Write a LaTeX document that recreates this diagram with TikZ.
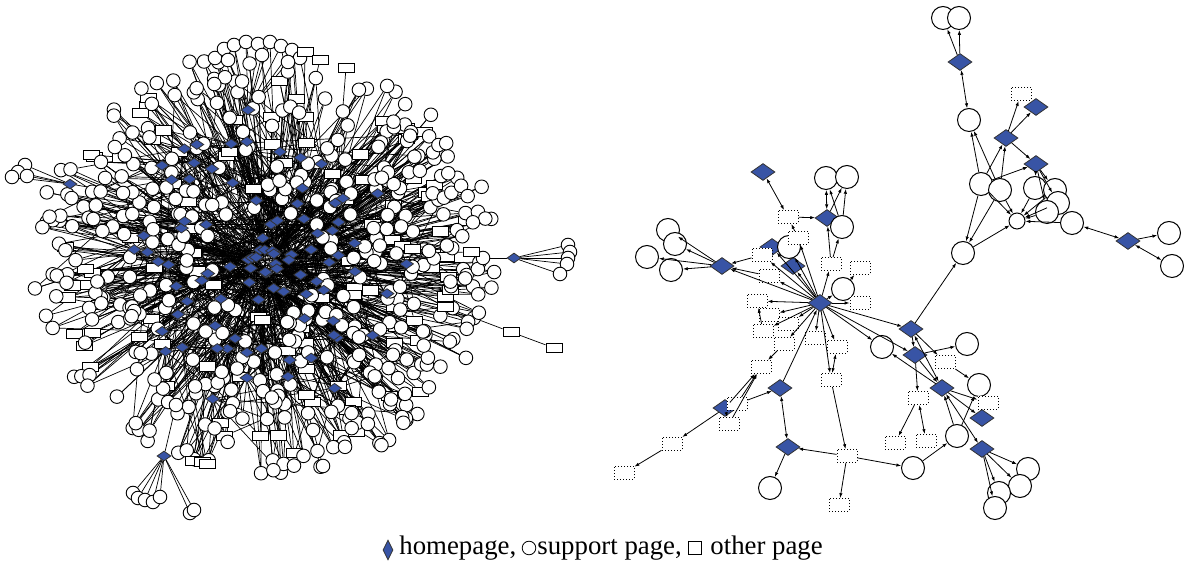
\documentclass[tikz,border=0pt]{standalone}
\usepackage{fontspec}
\setmainfont{Liberation Serif}
\usetikzlibrary{shapes.geometric,arrows.meta,positioning}
\definecolor{hpblue}{RGB}{56,84,165}
\pgfdeclarelayer{back}
\pgfdeclarelayer{fore}
\pgfsetlayers{back,main,fore}
\tikzset{
  hp/.style={diamond,draw=black!80,fill=hpblue,line width=.4pt,inner sep=0pt,minimum width=12pt,minimum height=8.5pt},
  sp/.style={circle,draw,fill=white,line width=.5pt,inner sep=0pt,minimum size=11.5pt},
  op/.style={rectangle,draw=black,densely dotted,fill=white,line width=.5pt,inner sep=0pt,minimum width=10pt,minimum height=6.5pt},
  lhp/.style={hp,minimum width=7pt,minimum height=5pt},
  lsp/.style={sp,minimum size=6.8pt,line width=.45pt},
  lop/.style={rectangle,draw,fill=white,line width=.45pt,inner sep=0pt,minimum width=8pt,minimum height=4.6pt},
  lnk/.style={->,line width=.4pt},
  hl/.style={line width=.35pt},
  lgtxt/.style={font=\fontsize{13.4}{15}\selectfont,inner sep=0pt}
}
\begin{document}
\begin{tikzpicture}[x=0.5pt,y=-0.5pt,>={Latex[length=2.4pt,width=1.7pt]}]
\useasboundingbox (0,0) rectangle (1184,565);
\pgfmathsetseed{4242}

% big graph: homepages in the middle
\begin{pgfonlayer}{fore}
\foreach \i in {1,...,90}
{
    \pgfmathsetmacro{\ang}{\i*4+8*rnd}
    \pgfmathsetmacro{\rad}{10+145*rnd}
    \node[lhp] (ld\i) at ({265+\rad*cos(\ang)},{262+0.95*\rad*sin(\ang)}) {};
}
\node[lhp] (lx1) at (248,110) {};
\node[lhp] (lx2) at (70,184) {};
\node[lhp] (lx3) at (514,258) {};
\node[lhp] (lx4) at (164,456) {};
\end{pgfonlayer}

% big graph: other pages
\foreach \i in {1,...,110}
{
    \pgfmathsetmacro{\ang}{360*rnd}
    \pgfmathsetmacro{\rad}{0.1+0.85*sqrt(rnd)}
    \node[lop] (lr\i) at ({265+228*\rad*cos(\ang)},{262+205*\rad*sin(\ang)}) {};
    \pgfmathtruncatemacro{\ta}{1+mod(int(\ang/4+8*rnd-4)+90,90)}
    \pgfmathtruncatemacro{\tb}{1+int(89.9*rnd)}
    \expandafter\xdef\csname lra\i\endcsname{\ta}
    \expandafter\xdef\csname lrb\i\endcsname{\tb}
}

% big graph: support pages
\foreach \i in {1,...,430}
{
    \pgfmathsetmacro{\ang}{360*rnd}
    \pgfmathsetmacro{\rad}{sqrt(0.05+0.95*rnd)}
    \node[lsp] (lc\i) at ({265+232*\rad*cos(\ang)},{262+212*\rad*sin(\ang)}) {};
    \pgfmathtruncatemacro{\ta}{1+mod(int(\ang/4+10*rnd-5)+90,90)}
    \pgfmathtruncatemacro{\tb}{1+int(89.9*rnd)}
    \pgfmathtruncatemacro{\tc}{1+mod(int(\ang/4+6*rnd-3)+90,90)}
    \expandafter\xdef\csname lca\i\endcsname{\ta}
    \expandafter\xdef\csname lcb\i\endcsname{\tb}
    \expandafter\xdef\csname lcc\i\endcsname{\tc}
}

% big graph: outlying fans
\foreach \x/\y [count=\k] in {215/58,224/49,234/45,246/42,258/44,270/42,281/46,292/50,300/58,228/60,262/55,288/62}
    \node[lsp] (lt\k) at (\x,\y) {};
\node[lop] (lq1) at (305,52) {};
\node[lop] (lq2) at (320,60) {};
\node[lop] (lq3) at (346,68) {};
\node[lsp] (lxc1) at (123,193) {};
\foreach \x/\y [count=\k] in {25/165,18/172,12/177,27/176}
    \node[lsp] (lf\k) at (\x,\y) {};
\node[lsp] (lxc2) at (483,258) {};
\node[lop] (lxr1) at (471,252) {};
\foreach \x/\y [count=\k] in {568/245,570/252,568/258,567/264,560/274}
    \node[lsp] (lg\k) at (\x,\y) {};
\node[lop] (lxr4) at (445,307) {};
\node[lop] (lxr2) at (511,332) {};
\node[lop] (lxr3) at (554,348) {};
\node[lsp] (lxc3) at (176,405) {};
\foreach \x/\y [count=\k] in {133/493,138/498,145/500,153/502,160/497,190/513,194/510}
    \node[lsp] (lb\k) at (\x,\y) {};
\foreach \x/\y [count=\k] in {193/461,202/462,207/464}
    \node[lop] (lo\k) at (\x,\y) {};
\node[lsp] (lxc4) at (313,430) {};
\node[lsp] (lxc5) at (323,466) {};

% big graph: all links
\begin{pgfonlayer}{back}
\foreach \i in {1,...,90}
{
    \pgfmathtruncatemacro{\t}{1+mod(\i+int(rnd*87),90)}
    \pgfmathtruncatemacro{\s}{1+mod(\i+int(rnd*87),90)}
    \draw[hl] (ld\i) -- (ld\t);
    \draw[hl] (ld\i) -- (ld\s);
}
\foreach \i in {1,...,110}
{
    \edef\ta{\csname lra\i\endcsname}
    \edef\tb{\csname lrb\i\endcsname}
    \draw[hl] (lr\i) -- (ld\ta);
    \draw[hl] (lr\i) -- (ld\tb);
}
\foreach \i in {1,...,430}
{
    \edef\ta{\csname lca\i\endcsname}
    \edef\tb{\csname lcb\i\endcsname}
    \edef\tc{\csname lcc\i\endcsname}
    \draw[hl] (lc\i) -- (ld\ta);
    \draw[hl] (lc\i) -- (ld\tc);
    \ifodd\i \draw[hl] (lc\i) -- (ld\tb); \fi
}
\foreach \k in {1,...,12}
{
    \pgfmathtruncatemacro{\t}{64+\k}
    \draw[hl] (lt\k) -- (lx1);
    \draw[hl] (lt\k) -- (ld\t);
}
\foreach \k in {1,...,4} \draw[hl] (lf\k) -- (lx2);
\foreach \k in {1,...,5} \draw[hl] (lg\k) -- (lx3);
\foreach \k in {1,...,7} \draw[hl] (lb\k) -- (lx4);
\foreach \k in {1,...,3}
{
    \draw[hl] (lo\k) -- (ld2\k);
    \draw[hl] (lo\k) -- (ld3\k);
    \draw[hl] (lo\k) -- (ld4\k);
}
\draw[hl] (lx1) -- (ld70);
\draw[hl] (lq1) -- (ld72); \draw[hl] (lq2) -- (ld75); \draw[hl] (lq3) -- (ld78);
\draw[hl] (lx2) -- (lxc1); \draw[hl] (lxc1) -- (ld45);
\draw[hl] (lx3) -- (lxc2); \draw[hl] (lxc2) -- (lxr1); \draw[hl] (lxr1) -- (ld88);
\draw[hl] (lxr2) -- (lxr3); \draw[hl] (lxr2) -- (lxr4); \draw[hl] (lxr4) -- (ld10);
\draw[hl] (lx4) -- (lxc3); \draw[hl] (lxc3) -- (ld30);
\draw[hl] (lxc5) -- (lxc4); \draw[hl] (lxc4) -- (ld20);
\end{pgfonlayer}

% small graph
\foreach \n/\x/\y in {rd1/960/62, rd2/1036/107, rd3/1006/138, rd4/1036/164, rd5/1128/241,
    rd6/763/172, rd7/827/218, rd8/772/247, rd9/793/266, rd10/722/266, hub/820/303,
    rd11/911/329, rd12/915/355, rd13/780/388, rd14/725/408, rd15/788/447,
    rd16/942/388, rd17/982/418, rd18/982/449}
    \node[hp] (\n) at (\x,\y) {};
\foreach \n/\x/\y in {rc1/943/18, rc2/959/18, rc3/969/120, rc4/981/184, rc5/1000/190,
    rc6/1035/188, rc7/1055/190, rc8/1058/203, rc9/1047/212, rc11/1072/223,
    rc12/963/253, rc13/1169/233, rc14/1172/266, rc15/826/178, rc16/847/177,
    rc17/842/227, rc18/789/247, rc19/668/230, rc20/675/244, rc21/647/257,
    rc22/671/270, rc23/843/289, rc24/882/347, rc25/967/344, rc26/979/385,
    rc27/957/436, rc28/913/468, rc29/1028/469, rc30/1020/486, rc31/999/493,
    rc32/995/508, rc33/770/488}
    \node[sp] (\n) at (\x,\y) {};
\node[sp,minimum size=8pt] (rc10) at (1017,221) {};
\foreach \n/\x/\y in {rr1/1021/94, rr2/788/217, rr3/798/238, rr4/762/255, rr5/769/276,
    rr6/831/264, rr7/860/268, rr8/860/303, rr9/757/301, rr10/769/315, rr11/788/324,
    rr12/763/331, rr13/784/344, rr14/815/338, rr15/837/347, rr16/761/367,
    rr17/831/380, rr18/737/404, rr19/729/424, rr20/672/444, rr21/624/473,
    rr22/847/456, rr23/839/505, rr24/945/362, rr25/918/398, rr26/988/403,
    rr27/895/443, rr28/926/441}
    \node[op] (\n) at (\x,\y) {};

\foreach \a/\b in {rd1/rc1, rd1/rc2, rc4/rc3, rc5/rc3, rd3/rr1, rd3/rd2, rd3/rd4,
    rc4/rd3, rc5/rd3, rc4/rd4, rd4/rc6, rd4/rc7, rd4/rc9, rd4/rc8, rc4/rc12,
    rc5/rc12, rc12/rc10, rc4/rc10, rc5/rc10, rc6/rc10, rc7/rc10, rc9/rc10,
    rc8/rc10, rc11/rc10, rd5/rc13, rd11/rc12,
    rr2/rd7, rr3/rr2, rc17/rc15, rc17/rc16, rd7/rc16, rr6/rd7, rr6/rc17,
    hub/rr3, hub/rd8, hub/rc18, hub/rd9, hub/rr4, hub/rr5, hub/rd10, hub/rr9,
    hub/rr10, hub/rr11, hub/rr12, hub/rr13, hub/rr14, hub/rr15, hub/rr6,
    hub/rc23, hub/rr8, hub/rr17, hub/rd11, hub/rd12, hub/rc24, rd13/hub,
    rc23/rr7, rr4/rd10, rr5/rd10, rd10/rc19, rd10/rc20, rd10/rc21, rd10/rc22,
    rr12/rr9, rr13/rr16, rd14/rr16, rr18/rr16, rr19/rr16, rd14/rr19,
    rr18/rd13, rd15/rc33, rr22/rd15, rr17/rr22, rr22/rr23, rd14/rr20,
    rr20/rr21, rr22/rc28, rc28/rc27, rc27/rd16, rc27/rc26, rd11/rd12,
    rd11/rr24, rd12/rc25, rd12/rr25, rd12/rd16, rd16/rc24, rr24/rc26,
    rd16/rr26, rd16/rd17, rd18/rc29, rd18/rc30, rd18/rc31, rd18/rc32, rr25/rr27}
    \draw[lnk] (\a) -- (\b);
\foreach \a/\b in {rd1/rc3, rc11/rd5, rd5/rc14, rd6/rr2, rd7/rc15, rd13/rd15,
    rr15/rr17, rd11/rd16, rd16/rd18, rr25/rr28}
    \draw[lnk,<->] (\a) -- (\b);

% legend
\node[hp,minimum width=5pt,minimum height=10pt] (lgh) at (388,550) {};
\node[lgtxt,anchor=base west] (lgt1) at (399,555) {homepage,};
\node[circle,draw,line width=.4pt,inner sep=0pt,minimum size=6.8pt] (lgs) at (529,548) {};
\node[lgtxt,anchor=base west] (lgt2) at (537,555) {support page,};
\node[rectangle,draw,line width=.4pt,inner sep=0pt,minimum size=6.3pt] (lgo) at (695,548) {};
\node[lgtxt,anchor=base west] (lgt3) at (710,555) {other page};
\end{tikzpicture}
\end{document}
